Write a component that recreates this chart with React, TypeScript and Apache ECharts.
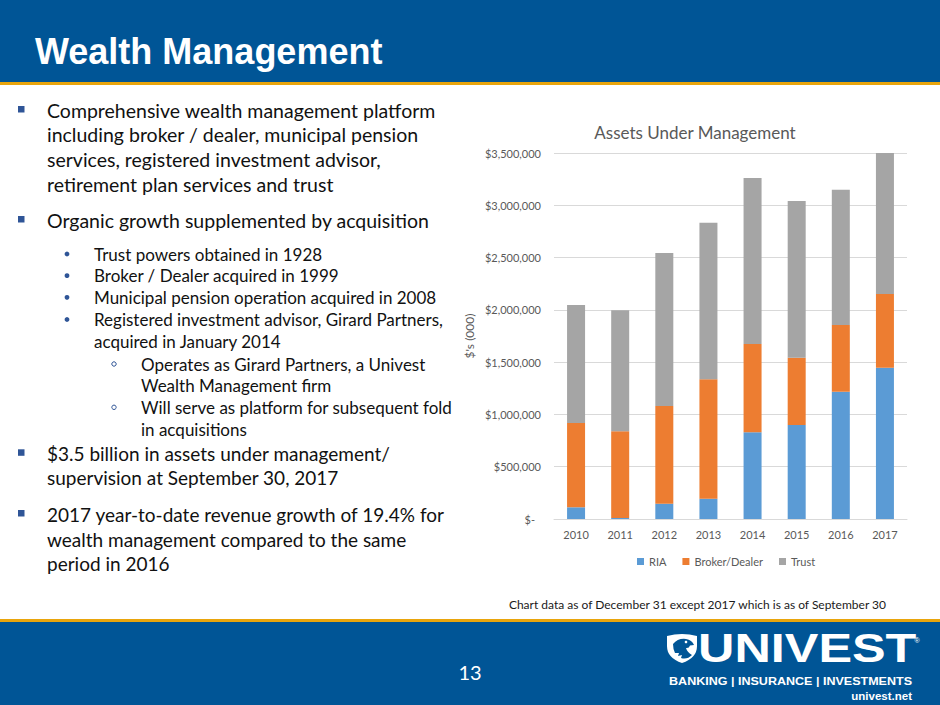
import React, { useEffect, useRef } from "react";
import * as echarts from "echarts";

const years = ["2010", "2011", "2012", "2013", "2014", "2015", "2016", "2017"];
const ria = [112000, 10000, 146000, 194000, 829000, 899000, 1218000, 1447000];
const brokerDealer = [806000, 829000, 935000, 1142000, 845000, 644000, 637000, 705000];
const trust = [1128000, 1157000, 1463000, 1498000, 1587000, 1498000, 1294000, 1348000];
const seriesNames = ["RIA", "Broker/Dealer", "Trust"];
const seriesColors = ["#5B9BD5", "#ED7D31", "#A5A5A5"];
const yMax = 3500000;
const yStep = 500000;

const pageTitle = "Wealth Management";
const chartTitle = "Assets Under Management";
const yAxisName = "$'s (000)";
const footnote = "Chart data as of December 31 except 2017 which is as of September 30";
const pageNumber = "13";

// [level, text, y, hasBullet]
const bodyLines: [number, string, number, boolean][] = [
  [1, "Comprehensive wealth management platform", 110, true],
  [1, "including broker / dealer, municipal pension", 134.5, false],
  [1, "services, registered investment advisor,", 159, false],
  [1, "retirement plan services and trust", 184, false],
  [1, "Organic growth supplemented by acquisition", 220, true],
  [2, "Trust powers obtained in 1928", 254, true],
  [2, "Broker / Dealer acquired in 1999", 275.7, true],
  [2, "Municipal pension operation acquired in 2008", 297.3, true],
  [2, "Registered investment advisor, Girard Partners,", 319.5, true],
  [2, "acquired in January 2014", 341.3, false],
  [3, "Operates as Girard Partners, a Univest", 364, true],
  [3, "Wealth Management firm", 385.5, false],
  [3, "Will serve as platform for subsequent fold", 407.3, true],
  [3, "in acquisitions", 429.3, false],
  [4, "$3.5 billion in assets under management/", 453.3, true],
  [4, "supervision at September 30, 2017", 477.3, false],
  [4, "2017 year-to-date revenue growth of 19.4% for", 514, true],
  [4, "wealth management compared to the same", 539, false],
  [4, "period in 2016", 563.3, false],
];

const BODY_FONT = "Lato, 'Open Sans', sans-serif";
const ARIAL = "'Liberation Sans', Arial, sans-serif";
const levelStyle: Record<number, { x: number; size: number; bx: number }> = {
  1: { x: 47, size: 19.5, bx: 18 },
  2: { x: 94, size: 17, bx: 67 },
  3: { x: 141, size: 17, bx: 114 },
  4: { x: 47, size: 19, bx: 18 },
};

const shieldPath = "M0 3 Q15 -1 30 3 L30 13 Q30 25 15 30 Q0 25 0 13 Z";
const eaglePath = "M6 11 Q11 5 19 6 Q25 7 27 12 L23 12.5 Q22 15.5 19 15 Q20 19 25 22 Q20 27 14 25 L15 22 L11 23 L12 20 L8 20 Q6 16 6 11 Z";

let registered = false;
function registerShapes() {
  if (registered) return;
  echarts.graphic.registerShape("shieldShape", echarts.graphic.extendPath(shieldPath, {}));
  echarts.graphic.registerShape("eagleShape", echarts.graphic.extendPath(eaglePath, {}));
  registered = true;
}

export default function App() {
  const ref = useRef<HTMLDivElement>(null);
  useEffect(() => {
    document.body.style.margin = "0";
    registerShapes();
    const chart = echarts.init(ref.current!, undefined, { renderer: "svg" });

    const graphics: any[] = [
      { type: "rect", shape: { x: 0, y: 0, width: 940, height: 82 }, style: { fill: "#005596" }, z: 1 },
      { type: "rect", shape: { x: 0, y: 82, width: 940, height: 3 }, style: { fill: "#E9A50C" }, z: 1 },
      {
        type: "text", x: 35, y: 51, z: 2,
        style: { text: pageTitle, fill: "#FFFFFF", fontFamily: ARIAL, fontWeight: "bold", fontSize: 36, textVerticalAlign: "middle" },
      },
      { type: "rect", shape: { x: 0, y: 619, width: 940, height: 3 }, style: { fill: "#E9A50C" }, z: 1 },
      { type: "rect", shape: { x: 0, y: 622, width: 940, height: 83 }, style: { fill: "#005596" }, z: 1 },
      {
        type: "text", x: 470, y: 672, z: 2,
        style: { text: pageNumber, fill: "#FFFFFF", fontFamily: BODY_FONT, fontSize: 20, textAlign: "center", textVerticalAlign: "middle" },
      },
      {
        type: "text", x: 886, y: 604, z: 2,
        style: { text: footnote, fill: "#1A1A1A", fontFamily: BODY_FONT, fontSize: 12, textAlign: "right", textVerticalAlign: "middle" },
      },
      {
        type: "text", x: 695, y: 132, z: 2,
        style: { text: chartTitle, fill: "#595959", fontFamily: BODY_FONT, fontSize: 17, textAlign: "center", textVerticalAlign: "middle" },
      },
      // logo
      { type: "shieldShape", x: 667, y: 633, style: { fill: "#FFFFFF" }, z: 2 },
      { type: "eagleShape", x: 667, y: 633, style: { fill: "#005596" }, z: 3 },
      { type: "circle", shape: { cx: 686, cy: 642, r: 1.3 }, style: { fill: "#FFFFFF" }, z: 4 },
      {
        type: "text", x: 698, y: 648, scaleX: 1.26, z: 2,
        style: { text: "UNIVEST", fill: "#FFFFFF", fontFamily: ARIAL, fontWeight: 900, fontSize: 40, textVerticalAlign: "middle" },
      },
      {
        type: "text", x: 917, y: 640, z: 2,
        style: { text: "®", fill: "#FFFFFF", fontFamily: ARIAL, fontSize: 7, textAlign: "center", textVerticalAlign: "middle" },
      },
      {
        type: "text", x: 912, y: 681, scaleX: 1.14, z: 2,
        style: { text: "BANKING | INSURANCE | INVESTMENTS", fill: "#FFFFFF", fontFamily: ARIAL, fontWeight: "bold", fontSize: 11, textAlign: "right", textVerticalAlign: "middle" },
      },
      {
        type: "text", x: 912, y: 696, scaleX: 1.15, z: 2,
        style: { text: "univest.net", fill: "#FFFFFF", fontFamily: ARIAL, fontWeight: "bold", fontSize: 10, textAlign: "right", textVerticalAlign: "middle" },
      },
    ];

    bodyLines.forEach(([lvl, text, y, bullet]) => {
      const st = levelStyle[lvl];
      graphics.push({
        type: "text", x: st.x, y, z: 2,
        style: { text, fill: "#111111", fontFamily: BODY_FONT, fontSize: st.size, textVerticalAlign: "middle" },
      });
      if (bullet) {
        if (lvl === 1 || lvl === 4) {
          graphics.push({ type: "rect", shape: { x: st.bx, y: y - 4, width: 6.5, height: 6.5 }, style: { fill: "#2F5597" }, z: 2 });
        } else if (lvl === 2) {
          graphics.push({ type: "circle", shape: { cx: st.bx, cy: y, r: 2.4 }, style: { fill: "#2F5597" }, z: 2 });
        } else {
          graphics.push({ type: "circle", shape: { cx: st.bx, cy: y, r: 2.2 }, style: { fill: "none", stroke: "#2F5597", lineWidth: 1 }, z: 2 });
        }
      }
    });

    const mk = (i: number, data: number[]) => ({
      name: seriesNames[i],
      type: "bar",
      stack: "total",
      barWidth: 18,
      data,
      itemStyle: { color: seriesColors[i] },
    });

    chart.setOption({
      animation: false,
      backgroundColor: "#FFFFFF",
      textStyle: { fontFamily: BODY_FONT },
      grid: { left: 554, right: 33, top: 153, bottom: 186, containLabel: false },
      legend: {
        data: seriesNames,
        left: 632,
        top: 551,
        icon: "rect",
        itemWidth: 7,
        itemHeight: 7,
        itemGap: 16,
        textStyle: { color: "#595959", fontSize: 11, fontFamily: BODY_FONT },
      },
      xAxis: {
        type: "category",
        data: years,
        axisTick: { show: false },
        axisLine: { lineStyle: { color: "#D9D9D9" } },
        axisLabel: { color: "#595959", fontSize: 11, margin: 10, fontFamily: BODY_FONT },
      },
      yAxis: {
        type: "value",
        min: 0,
        max: yMax,
        interval: yStep,
        name: yAxisName,
        nameLocation: "middle",
        nameRotate: 90,
        nameGap: 79,
        nameTextStyle: { color: "#595959", fontSize: 12, fontFamily: BODY_FONT },
        splitLine: { lineStyle: { color: "#D9D9D9" } },
        axisLine: { show: false },
        axisTick: { show: false },
        axisLabel: {
          color: "#595959",
          fontSize: 11,
          margin: 13,
          fontFamily: BODY_FONT,
          formatter: (v: number) => (v === 0 ? "{z|$-}" : "$" + v.toLocaleString("en-US")),
          rich: { z: { color: "#595959", fontSize: 11, fontFamily: BODY_FONT, padding: [0, 6, 0, 0] } },
        },
      },
      series: [mk(0, ria), mk(1, brokerDealer), mk(2, trust)],
      graphic: graphics,
    });
    return () => chart.dispose();
  }, []);
  return <div ref={ref} style={{ position: "fixed", left: 0, top: 0, width: 940, height: 705 }} />;
}
